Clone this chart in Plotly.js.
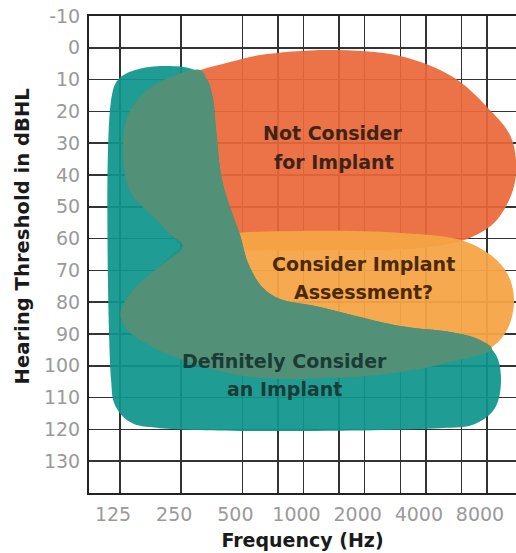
<!DOCTYPE html>
<html>
<head>
<meta charset="utf-8">
<script src="https://cdn.plot.ly/plotly-3.0.1.min.js"></script>
<style>html,body{margin:0;padding:0;background:#fff;}#chart{width:516px;height:553px;}</style>
</head>
<body>
<div id="chart"></div>
<script>
// Axis ticks
const freqTicks = [125, 250, 500, 750, 1000, 1500, 2000, 3000, 4000, 6000, 8000];
const freqTickText = ['125', '250', '500', '', '1000', '', '2000', '', '4000', '', '8000'];
const dbTicks = [-10, 0, 10, 20, 30, 40, 50, 60, 70, 80, 90, 100, 110, 120, 130];
const dbTickText = ['-10', '0', '10', '20', '30', '40', '50', '60', '70', '80', '90', '100', '110', '120', '130'];

// Region outlines (frequency in Hz, threshold in dBHL)
const notConsiderHz = [129, 135, 157, 201, 310, 435, 611, 1350, 2985, 5442, 7998, 10380, 11110, 10739, 8759, 6234, 3744, 1350, 487, 261, 220, 180, 140, 129];
const notConsiderDb = [32.1, 22.1, 15.5, 10.4, 7.0, 4.5, 2.3, 0.7, 2.6, 9.2, 18.6, 27.4, 35.3, 44.7, 54.8, 60.4, 63.0, 63.6, 63.6, 62.6, 58.6, 52.9, 45.3, 32.1];

const assessHz = [126, 145, 192, 255, 435, 961, 2985, 5890, 8466, 10148, 10861, 10148, 8466, 5260, 2985, 1397, 545, 255, 157, 131, 126];
const assessDb = [83.1, 76.2, 69.2, 62.3, 58.6, 57.6, 58.2, 60.4, 65.5, 71.4, 79.3, 88.1, 94.1, 98.8, 102.0, 103.8, 103.5, 98.2, 91.9, 87.5, 83.1];

const definitelyHz = [113, 122, 148, 208, 283, 335, 359, 371, 397, 445, 487, 533, 625, 766, 1139, 2985, 5260, 7390, 8858, 9374, 8759, 6981, 4695, 197, 140, 118, 113, 113];
const definitelyDb = [16.4, 10.1, 7.0, 5.7, 6.7, 10.1, 16.4, 25.8, 41.6, 52.0, 58.9, 67.7, 75.2, 79.0, 81.2, 87.5, 89.4, 91.9, 96.6, 104.5, 113.3, 118.3, 119.6, 119.6, 117.7, 112.3, 104.5, 16.4];

const overlapHz = [255, 220, 180, 140, 129, 135, 157, 201, 310, 335, 359, 371, 397, 445, 487, 533, 625, 766, 1139, 2985, 5260, 7390, 8466, 5260, 2985, 1397, 545, 255, 157, 131, 126, 145, 192, 255];
const overlapDb = [62.3, 58.6, 52.9, 45.3, 32.1, 22.1, 15.5, 10.4, 7.0, 10.1, 16.4, 25.8, 41.6, 52.0, 58.9, 67.7, 75.2, 79.0, 81.2, 87.5, 89.4, 91.9, 94.7, 98.8, 102.0, 103.8, 103.5, 98.2, 91.9, 87.5, 83.1, 76.2, 69.2, 62.3];

function region(xs, ys, color) {
  return {
    type: 'scatter', mode: 'lines', x: xs, y: ys,
    fill: 'toself', fillcolor: color,
    line: {width: 0, shape: 'spline', smoothing: 1, color: color},
    hoverinfo: 'skip', showlegend: false
  };
}

const data = [
  region(notConsiderHz, notConsiderDb, 'rgba(235,104,58,0.93)'),
  region(assessHz, assessDb, 'rgba(245,164,68,0.95)'),
  region(definitelyHz, definitelyDb, 'rgba(14,150,140,0.93)'),
  region(overlapHz, overlapDb, 'rgba(84,145,120,0.96)')
];

const lblFont = (c) => ({family: 'DejaVu Sans', size: 19, color: c, weight: 'bold'});
function note(text, x, y, c) {
  return {text: text, xref: 'paper', yref: 'paper', x: x, y: y, xanchor: 'center', yanchor: 'middle', showarrow: false, font: lblFont(c)};
}

const layout = {
  width: 516, height: 553,
  margin: {l: 89, r: 0, t: 16, b: 60, pad: 0},
  paper_bgcolor: '#ffffff', plot_bgcolor: '#ffffff',
  xaxis: {
    type: 'log',
    range: [Math.log10(87.95), Math.log10(11110)],
    tickmode: 'array', tickvals: freqTicks, ticktext: freqTickText,
    showgrid: true, gridcolor: '#333333', gridwidth: 1.6,
    showline: true, linecolor: '#222222', linewidth: 2, mirror: true,
    zeroline: false, ticks: '',
    tickfont: {family: 'DejaVu Sans', size: 19, color: '#9a9a9a'},
    ticklabelshift: -7, ticklabelstandoff: 3,
    title: {text: 'Frequency (Hz)', standoff: 10, font: {family: 'DejaVu Sans', size: 19, color: '#1a1a1a', weight: 'bold'}}
  },
  yaxis: {
    range: [140, -10],
    tickmode: 'array', tickvals: dbTicks, ticktext: dbTickText,
    showgrid: true, gridcolor: '#333333', gridwidth: 1.6,
    showline: true, linecolor: '#222222', linewidth: 2,
    zeroline: false, ticks: '',
    tickfont: {family: 'DejaVu Sans', size: 19, color: '#9a9a9a'},
    ticklabelstandoff: 3
  },
  annotations: [
    note('Not Consider', 0.5714, 0.7547, '#3d2418'),
    note('for Implant', 0.5738, 0.6939, '#3d2418'),
    note('Consider Implant', 0.6417, 0.4801, '#4b2a0c'),
    note('Assessment?', 0.6417, 0.4214, '#4b2a0c'),
    note('Definitely Consider', 0.4590, 0.2767, '#1c3b34'),
    note('an Implant', 0.4590, 0.2180, '#1c3b34'),
    {text: 'Hearing Threshold in dBHL', xref: 'paper', yref: 'paper', x: -0.1546, y: 0.5377,
     xanchor: 'center', yanchor: 'middle', textangle: -90, showarrow: false,
     font: {family: 'DejaVu Sans', size: 19.6, color: '#1a1a1a', weight: 'bold'}}
  ]
};

Plotly.newPlot('chart', data, layout, {displayModeBar: false, staticPlot: true});
</script>
</body>
</html>
